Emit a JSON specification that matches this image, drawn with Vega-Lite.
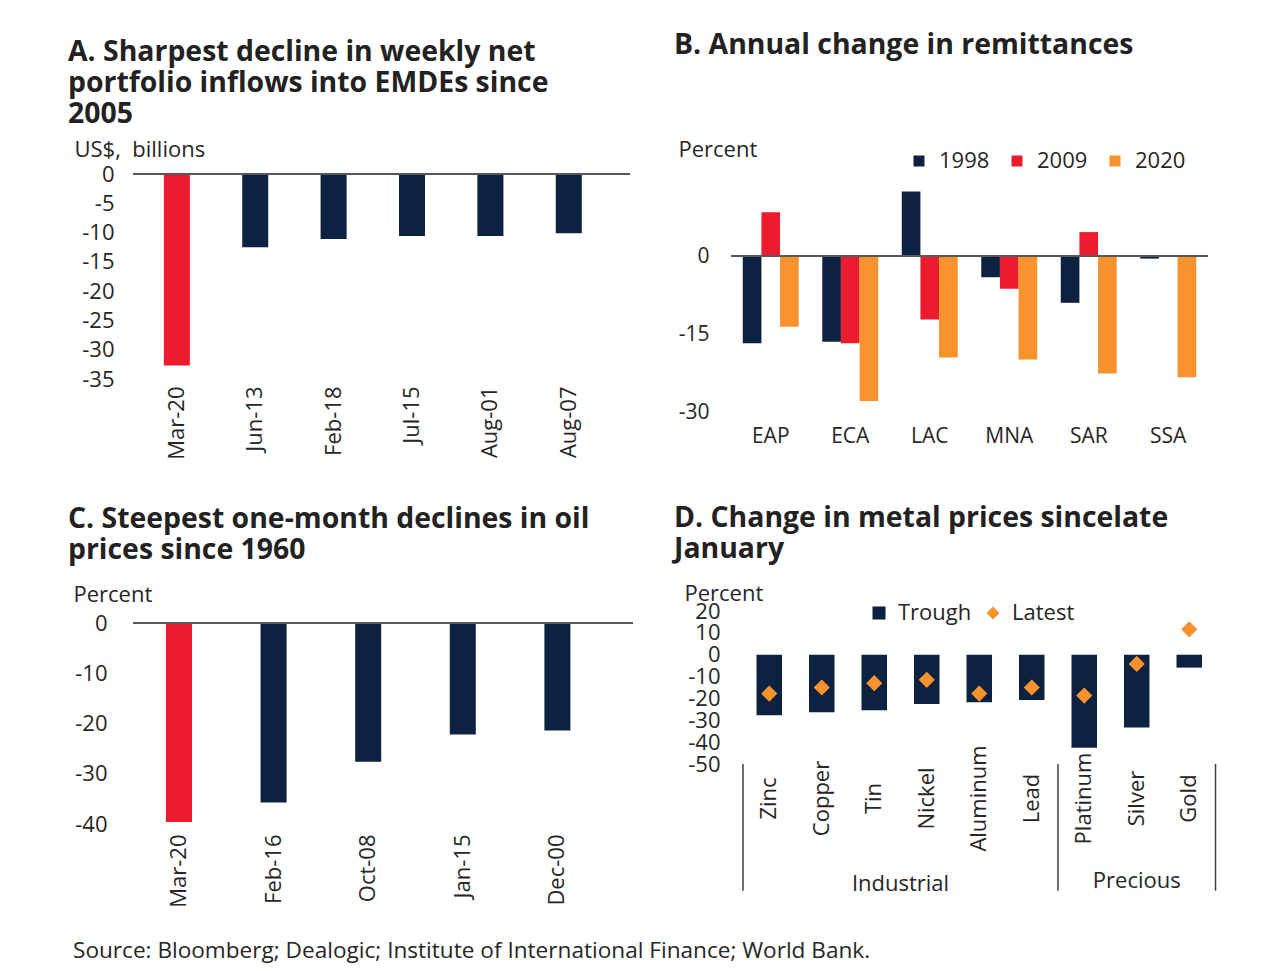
{
  "$schema": "https://vega.github.io/schema/vega-lite/v6.json",
  "padding": {"left": 68, "top": 30, "right": 5, "bottom": 5},
  "background": "white",
  "config": {
    "font": "Open Sans",
    "view": {"stroke": null},
    "axis": {"labelFont": "Open Sans", "labelFontSize": 22, "labelColor": "#262626", "titleFont": "Open Sans", "titleFontSize": 22, "titleFontWeight": "normal", "titleColor": "#262626", "domain": false, "ticks": false, "grid": false, "labelOverlap": false, "labelBound": false},
    "legend": {"labelFont": "Open Sans", "labelFontSize": 22, "labelColor": "#262626"},
    "title": {"font": "Open Sans", "fontSize": 28.4, "fontWeight": "bold", "color": "#222222", "anchor": "start", "frame": "group", "lineHeight": 31}
  },
  "resolve": {"scale": {"color": "independent", "shape": "independent"}, "legend": {"color": "independent", "shape": "independent"}},
  "title": {"text": "Source: Bloomberg; Dealogic; Institute of International Finance; World Bank.", "orient": "bottom", "anchor": "start", "fontSize": 22.6, "fontWeight": "normal", "color": "#262626", "dx": -60, "offset": 33},
  "columns": 2,
  "bounds": "flush",
  "align": {"row": "each", "column": "none"},
  "spacing": {"row": 199, "column": 98},
  "concat": [
    {
      "title": {"text": ["A. Sharpest decline in weekly net", "portfolio inflows into EMDEs since", "2005"], "dx": -65, "offset": 9},
      "width": 497,
      "height": 205,
      "data": {"values": [
        {"date": "Mar-20", "value": -32.7, "kind": "highlight"},
        {"date": "Jun-13", "value": -12.5, "kind": "other"},
        {"date": "Feb-18", "value": -11.1, "kind": "other"},
        {"date": "Jul-15", "value": -10.6, "kind": "other"},
        {"date": "Aug-01", "value": -10.6, "kind": "other"},
        {"date": "Aug-07", "value": -10.1, "kind": "other"}
      ]},
      "layer": [
        {
          "mark": {"type": "bar"},
          "encoding": {
            "x": {"field": "date", "type": "nominal", "sort": null, "scale": {"paddingInner": 0.668, "paddingOuter": 0.504, "align": 0.39}, "axis": {"title": null, "labelAngle": -90, "labelPadding": 7}},
            "y": {"field": "value", "type": "quantitative", "scale": {"domain": [-35, 0], "nice": false, "zero": false}, "axis": {"values": [0, -5, -10, -15, -20, -25, -30, -35], "tickCount": 20, "labelOverlap": false, "labelExpr": "replace(datum.label, '\u2212', '-')", "title": "US$,\u00a0 billions", "titleAngle": 0, "titleAlign": "left", "titleBaseline": "middle", "titleX": -59, "titleY": -25, "labelPadding": 19}},
            "color": {"field": "kind", "type": "nominal", "scale": {"domain": ["highlight", "other"], "range": ["#EC1C2E", "#0D2240"]}, "legend": null}
          }
        },
        {"mark": {"type": "rule", "color": "#595959", "strokeWidth": 1.5}, "encoding": {"y": {"datum": 0}}}
      ]
    },
    {
      "title": {"text": "B. Annual change in remittances", "dx": -57, "offset": 78},
      "width": 477,
      "height": 238,
      "data": {"values": [
        {"region": "EAP", "year": "1998", "value": -16.8},
        {"region": "EAP", "year": "2009", "value": 8.4},
        {"region": "EAP", "year": "2020", "value": -13.6},
        {"region": "ECA", "year": "1998", "value": -16.5},
        {"region": "ECA", "year": "2009", "value": -16.8},
        {"region": "ECA", "year": "2020", "value": -27.9},
        {"region": "LAC", "year": "1998", "value": 12.4},
        {"region": "LAC", "year": "2009", "value": -12.2},
        {"region": "LAC", "year": "2020", "value": -19.5},
        {"region": "MNA", "year": "1998", "value": -4.1},
        {"region": "MNA", "year": "2009", "value": -6.3},
        {"region": "MNA", "year": "2020", "value": -19.9},
        {"region": "SAR", "year": "1998", "value": -9.0},
        {"region": "SAR", "year": "2009", "value": 4.6},
        {"region": "SAR", "year": "2020", "value": -22.6},
        {"region": "SSA", "year": "1998", "value": -0.5},
        {"region": "SSA", "year": "2009", "value": 0},
        {"region": "SSA", "year": "2020", "value": -23.3}
      ]},
      "layer": [
        {
          "mark": {"type": "bar"},
          "encoding": {
            "x": {"field": "region", "type": "nominal", "sort": null, "scale": {"paddingInner": 0.296, "paddingOuter": 0.148}, "axis": {"title": null, "labelAngle": 0, "labelPadding": 13, "labelFontSize": 21}},
            "xOffset": {"field": "year", "type": "nominal", "scale": {"paddingInner": 0, "paddingOuter": 0}},
            "y": {"field": "value", "type": "quantitative", "stack": null, "scale": {"domain": [-30, 15.77], "nice": false, "zero": false}, "axis": {"values": [0, -15, -30], "tickCount": 20, "labelOverlap": false, "labelExpr": "replace(datum.label, '\u2212', '-')", "labelFontSize": 21, "title": "Percent", "titleAngle": 0, "titleAlign": "left", "titleBaseline": "middle", "titleX": -53, "titleY": -25, "labelPadding": 22}},
            "color": {"field": "year", "type": "nominal", "scale": {"domain": ["1998", "2009", "2020"], "range": ["#0D2240", "#EC1C2E", "#F7922C"]}, "legend": {"title": null, "orient": "none", "legendX": 177, "legendY": -24, "direction": "horizontal", "symbolType": "square", "symbolSize": 121, "labelOffset": 9, "columnPadding": 16}}
          }
        },
        {"mark": {"type": "rule", "color": "#595959", "strokeWidth": 1.5}, "encoding": {"y": {"datum": 0}}}
      ]
    },
    {
      "title": {"text": ["C. Steepest one-month declines in oil", "prices since 1960"], "dx": -65, "offset": 18},
      "width": 500,
      "height": 213,
      "data": {"values": [
        {"date": "Mar-20", "value": -39.6, "kind": "highlight"},
        {"date": "Feb-16", "value": -35.7, "kind": "other"},
        {"date": "Oct-08", "value": -27.6, "kind": "other"},
        {"date": "Jan-15", "value": -22.2, "kind": "other"},
        {"date": "Dec-00", "value": -21.4, "kind": "other"}
      ]},
      "layer": [
        {
          "mark": {"type": "bar"},
          "encoding": {
            "x": {"field": "date", "type": "nominal", "sort": null, "scale": {"paddingInner": 0.725, "paddingOuter": 0.505, "align": 0.345}, "axis": {"title": null, "labelAngle": -90, "labelPadding": 10}},
            "y": {"field": "value", "type": "quantitative", "scale": {"domain": [-40, 2.39], "nice": false, "zero": false}, "axis": {"values": [0, -10, -20, -30, -40], "tickCount": 20, "labelOverlap": false, "labelExpr": "replace(datum.label, '\u2212', '-')", "title": "Percent", "titleAngle": 0, "titleAlign": "left", "titleBaseline": "middle", "titleX": -60, "titleY": -17, "labelPadding": 26}},
            "color": {"field": "kind", "type": "nominal", "scale": {"domain": ["highlight", "other"], "range": ["#EC1C2E", "#0D2240"]}, "legend": null}
          }
        },
        {"mark": {"type": "rule", "color": "#595959", "strokeWidth": 1.5}, "encoding": {"y": {"datum": 0}}}
      ]
    },
    {
      "title": {"text": ["D. Change in metal prices sincelate", "January"], "dx": -57, "offset": 18},
      "width": 488,
      "height": 153,
      "data": {"values": [
        {"metal": "Zinc", "series": "Trough", "value": -27.7},
        {"metal": "Copper", "series": "Trough", "value": -26.3},
        {"metal": "Tin", "series": "Trough", "value": -25.4},
        {"metal": "Nickel", "series": "Trough", "value": -22.6},
        {"metal": "Aluminum", "series": "Trough", "value": -21.7},
        {"metal": "Lead", "series": "Trough", "value": -20.7},
        {"metal": "Platinum", "series": "Trough", "value": -42.6},
        {"metal": "Silver", "series": "Trough", "value": -33.3},
        {"metal": "Gold", "series": "Trough", "value": -5.9},
        {"metal": "Zinc", "series": "Latest", "value": -17.8},
        {"metal": "Copper", "series": "Latest", "value": -15.0},
        {"metal": "Tin", "series": "Latest", "value": -13.0},
        {"metal": "Nickel", "series": "Latest", "value": -11.5},
        {"metal": "Aluminum", "series": "Latest", "value": -17.8},
        {"metal": "Lead", "series": "Latest", "value": -15.0},
        {"metal": "Platinum", "series": "Latest", "value": -18.7},
        {"metal": "Silver", "series": "Latest", "value": -4.2},
        {"metal": "Gold", "series": "Latest", "value": 11.6}
      ]},
      "encoding": {
        "x": {"field": "metal", "type": "nominal", "scale": {"domain": ["Zinc", "Copper", "Tin", "Nickel", "Aluminum", "Lead", "Platinum", "Silver", "Gold"], "paddingInner": 0.514, "paddingOuter": 0.405, "align": 0.6}, "axis": {"title": null, "labelAngle": -90, "labelAlign": "center", "labelBaseline": "middle", "labelPadding": 34}}
      },
      "layer": [
        {
          "transform": [{"filter": "datum.series === 'Trough'"}],
          "mark": {"type": "bar"},
          "encoding": {
            "y": {"field": "value", "type": "quantitative", "stack": null, "scale": {"domain": [-50, 20], "nice": false, "zero": false}, "axis": {"values": [20, 10, 0, -10, -20, -30, -40, -50], "tickCount": 20, "labelOverlap": false, "labelExpr": "replace(datum.label, '\u2212', '-')", "title": "Percent", "titleAngle": 0, "titleAlign": "left", "titleBaseline": "middle", "titleX": -47, "titleY": -18, "labelPadding": 11}},
            "color": {"field": "series", "type": "nominal", "scale": {"domain": ["Trough", "Latest"], "range": ["#0D2240", "#F7922C"]}, "legend": {"title": null, "orient": "none", "legendX": 137, "legendY": -9, "direction": "horizontal", "symbolSize": 170, "labelOffset": 8, "columnPadding": 10}}
          }
        },
        {"mark": {"type": "rule", "color": "#595959", "strokeWidth": 1.5}, "encoding": {"y": {"datum": 0}}},
        {
          "transform": [{"filter": "datum.series === 'Latest'"}],
          "mark": {"type": "point", "filled": true, "opacity": 1, "size": 260},
          "encoding": {
            "y": {"field": "value", "type": "quantitative"},
            "color": {"field": "series", "type": "nominal"},
            "shape": {"field": "series", "type": "nominal", "scale": {"domain": ["Trough", "Latest"], "range": ["square", "diamond"]}, "legend": {"title": null, "orient": "none", "legendX": 137, "legendY": -9, "direction": "horizontal", "symbolSize": 170, "labelOffset": 8, "columnPadding": 10}}
          }
        },
        {
          "data": {"values": [{"metal": "Zinc"}, {"metal": "Platinum"}]},
          "mark": {"type": "rule", "color": "#404040", "strokeWidth": 1.5},
          "encoding": {
            "x": {"field": "metal", "type": "nominal", "bandPosition": -0.53},
            "y": {"datum": -50},
            "y2": {"datum": -108}
          }
        },
        {
          "data": {"values": [{"metal": "Gold"}]},
          "mark": {"type": "rule", "color": "#404040", "strokeWidth": 1.5},
          "encoding": {
            "x": {"field": "metal", "type": "nominal", "bandPosition": 1.53},
            "y": {"datum": -50},
            "y2": {"datum": -108}
          }
        },
        {
          "data": {"values": [{"metal": "Tin", "label": "Industrial"}]},
          "mark": {"type": "text", "fontSize": 22, "color": "#262626", "font": "Open Sans"},
          "encoding": {
            "x": {"field": "metal", "type": "nominal", "bandPosition": 1.53},
            "y": {"datum": -105},
            "text": {"field": "label"}
          }
        },
        {
          "data": {"values": [{"metal": "Silver", "label": "Precious"}]},
          "mark": {"type": "text", "fontSize": 22, "color": "#262626", "font": "Open Sans"},
          "encoding": {
            "x": {"field": "metal", "type": "nominal", "bandPosition": 0.5},
            "y": {"datum": -103.7},
            "text": {"field": "label"}
          }
        }
      ]
    }
  ]
}
